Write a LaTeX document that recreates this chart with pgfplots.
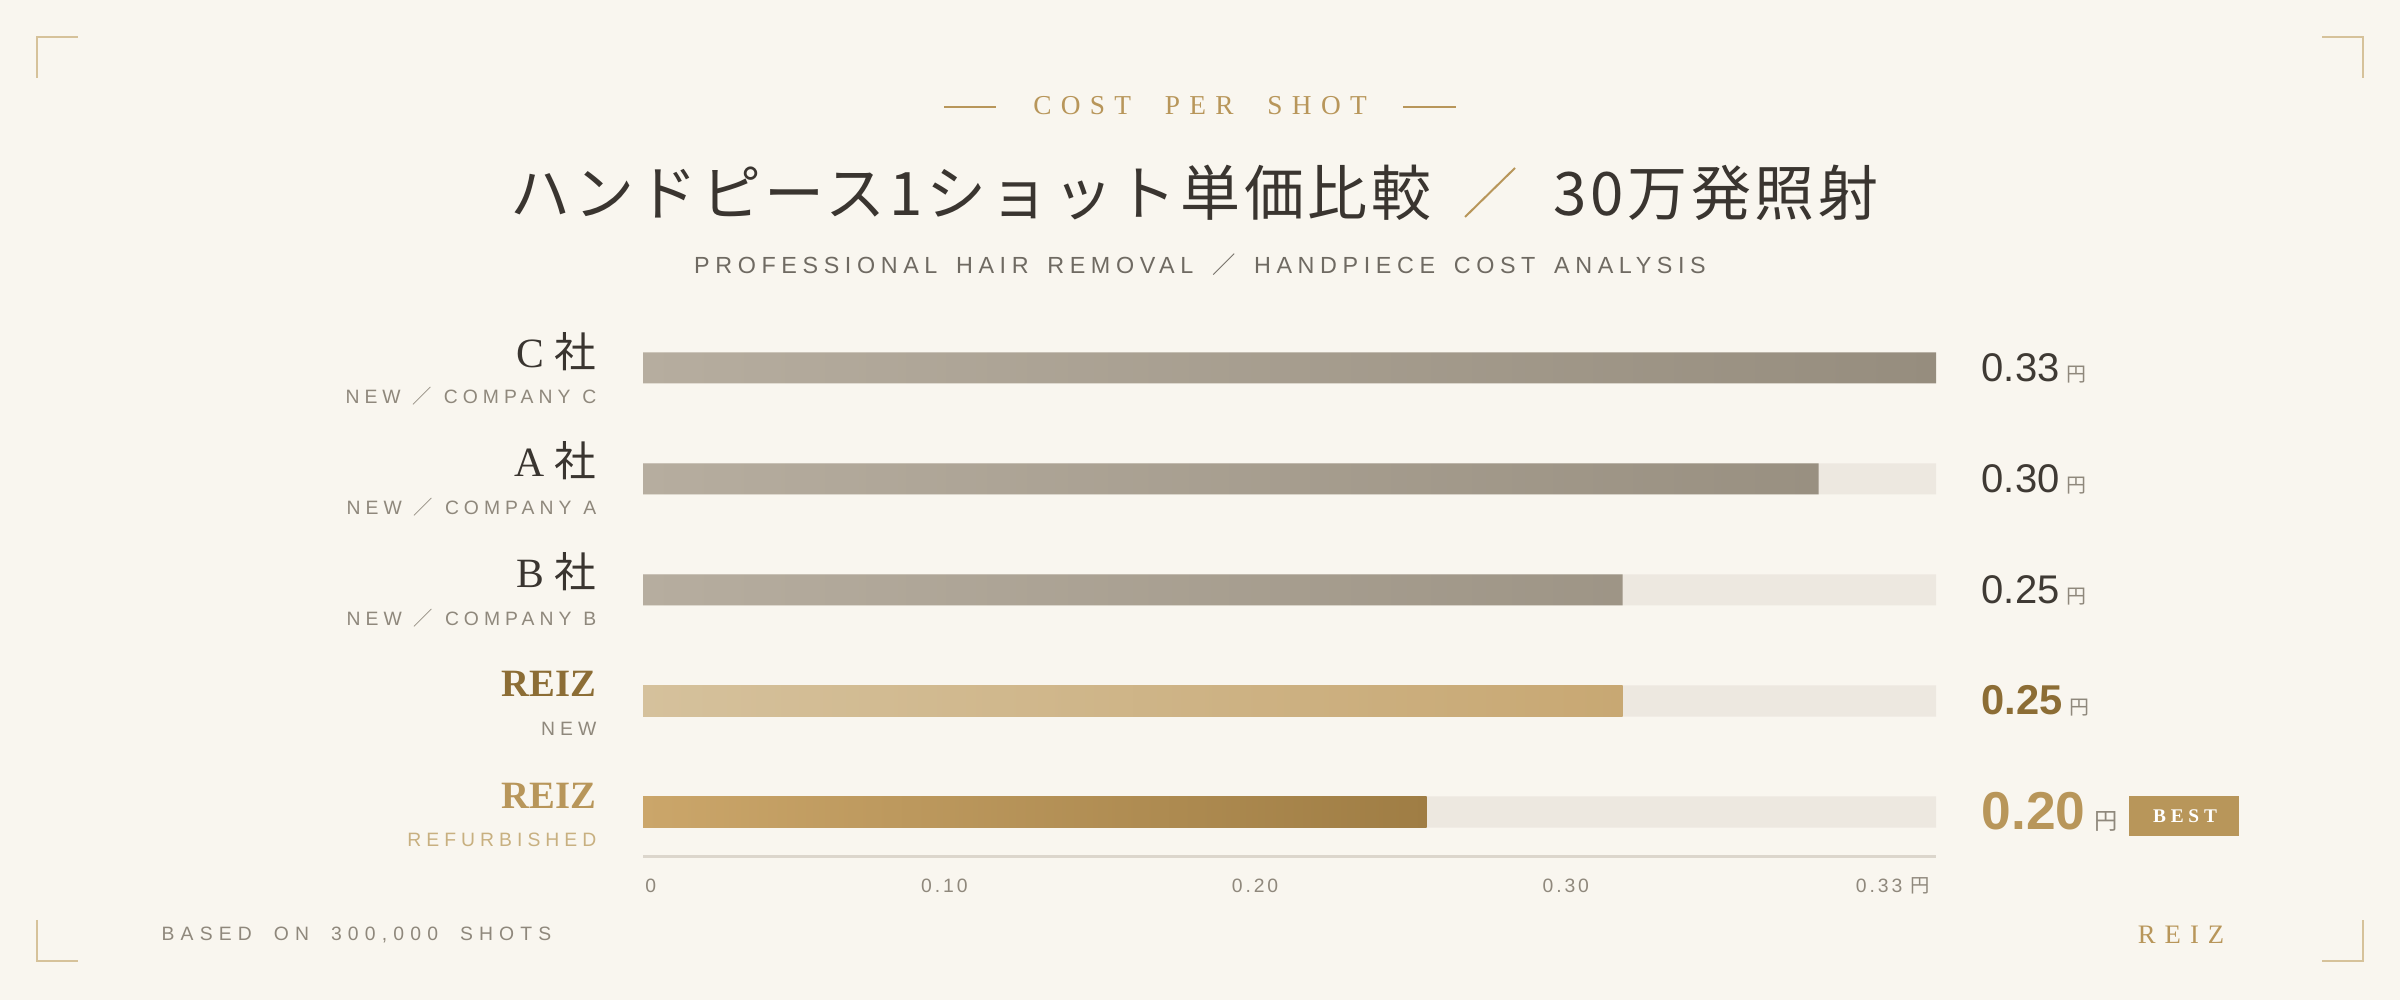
\documentclass[border=0pt]{standalone}
\usepackage{pgfplots}
\pgfplotsset{compat=1.18}
\usepackage{fontspec}
\setmainfont{Liberation Serif}
\setsansfont{Liberation Sans}
\newfontfamily\jp{Noto Sans CJK JP}
\newfontfamily\jpsp[LetterSpace=6]{Noto Sans CJK JP}
\newfontfamily\sersp[LetterSpace=34,WordSpace=2.1]{Liberation Serif}
\newfontfamily\serbest[LetterSpace=25]{Liberation Serif}
\newfontfamily\sanssp[LetterSpace=24,WordSpace=1.55]{Liberation Sans}
\newfontfamily\sanssub[LetterSpace=26,WordSpace=1.15]{Liberation Sans}
\newfontfamily\sansfoot[LetterSpace=32,WordSpace=1.9]{Liberation Sans}
\newfontfamily\sanstick[LetterSpace=15]{Liberation Sans}
\newcommand\fs[1]{\fontsize{#1}{#1}\selectfont}
\definecolor{bg}{HTML}{F9F6EF}
\definecolor{gold}{HTML}{B8965A}
\definecolor{goldlight}{HTML}{D6C29A}
\definecolor{brown}{HTML}{8C6D35}
\definecolor{dark}{HTML}{3A3530}
\definecolor{valdark}{HTML}{3F3A34}
\definecolor{labgray}{HTML}{8F887C}
\definecolor{subgray}{HTML}{6F6A62}
\definecolor{track}{HTML}{EDE8E0}
\definecolor{axline}{HTML}{DCD6CC}
\definecolor{grayL}{HTML}{B6AD9F}
\definecolor{grayR}{HTML}{968D7E}
\definecolor{newL}{HTML}{D5C19C}
\definecolor{newR}{HTML}{C8A873}
\definecolor{refL}{HTML}{CBA66A}
\definecolor{refR}{HTML}{9F7D44}
\definecolor{refgold}{HTML}{C8B080}
\begin{document}
\begin{tikzpicture}[x=0.3bp,y=0.3bp]
\fill[bg] (0,0) rectangle (2400,1000);
% corner marks
\draw[goldlight, line width=0.6bp] (37,922)--(37,963)--(78,963);
\draw[goldlight, line width=0.6bp] (2322,963)--(2363,963)--(2363,922);
\draw[goldlight, line width=0.6bp] (37,80)--(37,39)--(78,39);
\draw[goldlight, line width=0.6bp] (2322,39)--(2363,39)--(2363,80);
% header
\draw[gold, line width=0.5bp] (944,893)--(996,893);
\draw[gold, line width=0.5bp] (1403,893)--(1456,893);
\node[gold, font=\sersp\fs{8.2bp}, inner sep=0] at (1200,894) {COST PER SHOT};
\node[dark, font=\jpsp\fs{18bp}, inner sep=0] at (971,807) {ハンドピース1ショット単価比較};
\node[dark, font=\jpsp\fs{18bp}, inner sep=0] at (1716,807) {30万発照射};
\draw[gold, line width=0.6bp] (1465,783)--(1515,832);
\node[subgray, font=\sanssp\fs{7bp}, inner sep=0] at (1200,735) {PROFESSIONAL HAIR REMOVAL {\jp ／} HANDPIECE COST ANALYSIS};
% left labels
\node[dark, font=\fs{12.5bp}, anchor=east, inner sep=0] at (597,648) {C {\jp 社}};
\node[labgray, font=\sanssub\fs{5.8bp}, anchor=east, inner sep=0] at (597,604) {NEW {\jp ／} COMPANY C};
\node[dark, font=\fs{12.5bp}, anchor=east, inner sep=0] at (597,539) {A {\jp 社}};
\node[labgray, font=\sanssub\fs{5.8bp}, anchor=east, inner sep=0] at (597,493) {NEW {\jp ／} COMPANY A};
\node[dark, font=\fs{12.5bp}, anchor=east, inner sep=0] at (597,428) {B {\jp 社}};
\node[labgray, font=\sanssub\fs{5.8bp}, anchor=east, inner sep=0] at (597,382) {NEW {\jp ／} COMPANY B};
\node[brown, font=\bfseries\fs{11.6bp}, anchor=east, inner sep=0] at (597,316) {REIZ};
\node[labgray, font=\sanssub\fs{5.8bp}, anchor=east, inner sep=0] at (597,271) {NEW};
\node[gold, font=\bfseries\fs{11.6bp}, anchor=east, inner sep=0] at (597,204) {REIZ};
\node[refgold, font=\sanssub\fs{5.8bp}, anchor=east, inner sep=0] at (597,160) {REFURBISHED};
% values
\node[valdark, font=\sffamily\fs{12bp}, anchor=base west, inner sep=0] at (1981,618) {0.33\,{\color{labgray}\jp\fs{6bp}円}};
\node[valdark, font=\sffamily\fs{12bp}, anchor=base west, inner sep=0] at (1981,507) {0.30\,{\color{labgray}\jp\fs{6bp}円}};
\node[valdark, font=\sffamily\fs{12bp}, anchor=base west, inner sep=0] at (1981,396) {0.25\,{\color{labgray}\jp\fs{6bp}円}};
\node[brown, font=\sffamily\bfseries\fs{12.5bp}, anchor=base west, inner sep=0] at (1981,285) {0.25\,{\color{labgray}\mdseries\jp\fs{6bp}円}};
\node[gold, font=\sffamily\bfseries\fs{16bp}, anchor=base west, inner sep=0] at (1981,170) {0.20\,{\color{labgray}\mdseries\jp\fs{7bp}円}};
\fill[gold] (2129,164) rectangle (2239,204);
\node[white, font=\serbest\bfseries\fs{5.8bp}, inner sep=0] at (2185,184) {BEST};
% footer
\node[labgray, font=\sansfoot\fs{5.8bp}, anchor=west, inner sep=0] at (161,65) {BASED ON 300,000 SHOTS};
\node[gold, font=\sersp\fs{8bp}, inner sep=0] at (2181,65) {REIZ};
% chart
\begin{axis}[
  at={(192.9bp,43.08bp)}, anchor=south west,
  scale only axis, width=387.9bp, height=163.2bp,
  xmin=0, xmax=0.33, ymin=-0.4, ymax=4.5,
  enlargelimits=false,
  axis x line*=bottom, hide y axis,
  x axis line style={-, draw=axline, line width=0.9bp},
  xtick={0.002,0.0769,0.1562,0.2355,0.319},
  xticklabels={0,0.10,0.20,0.30,{0.33 {\jp 円}}},
  xtick style={draw=none},
  xticklabel style={anchor=center, yshift=-8.7bp, font=\sanstick\fs{5.8bp}, text=labgray},
  ytick=\empty,
  bar width=0.28, bar shift=0pt,
  clip=false,
]
\addplot[xbar, draw=none, fill=track] coordinates {(0.33,3) (0.33,2) (0.33,1) (0.33,0)};
\addplot[xbar, draw=none, left color=grayL, right color=grayR] coordinates {(0.33,4) (0.30,3) (0.25,2)};
\addplot[xbar, draw=none, left color=newL, right color=newR] coordinates {(0.25,1)};
\addplot[xbar, draw=none, left color=refL, right color=refR] coordinates {(0.20,0)};
\end{axis}
\end{tikzpicture}
\end{document}
